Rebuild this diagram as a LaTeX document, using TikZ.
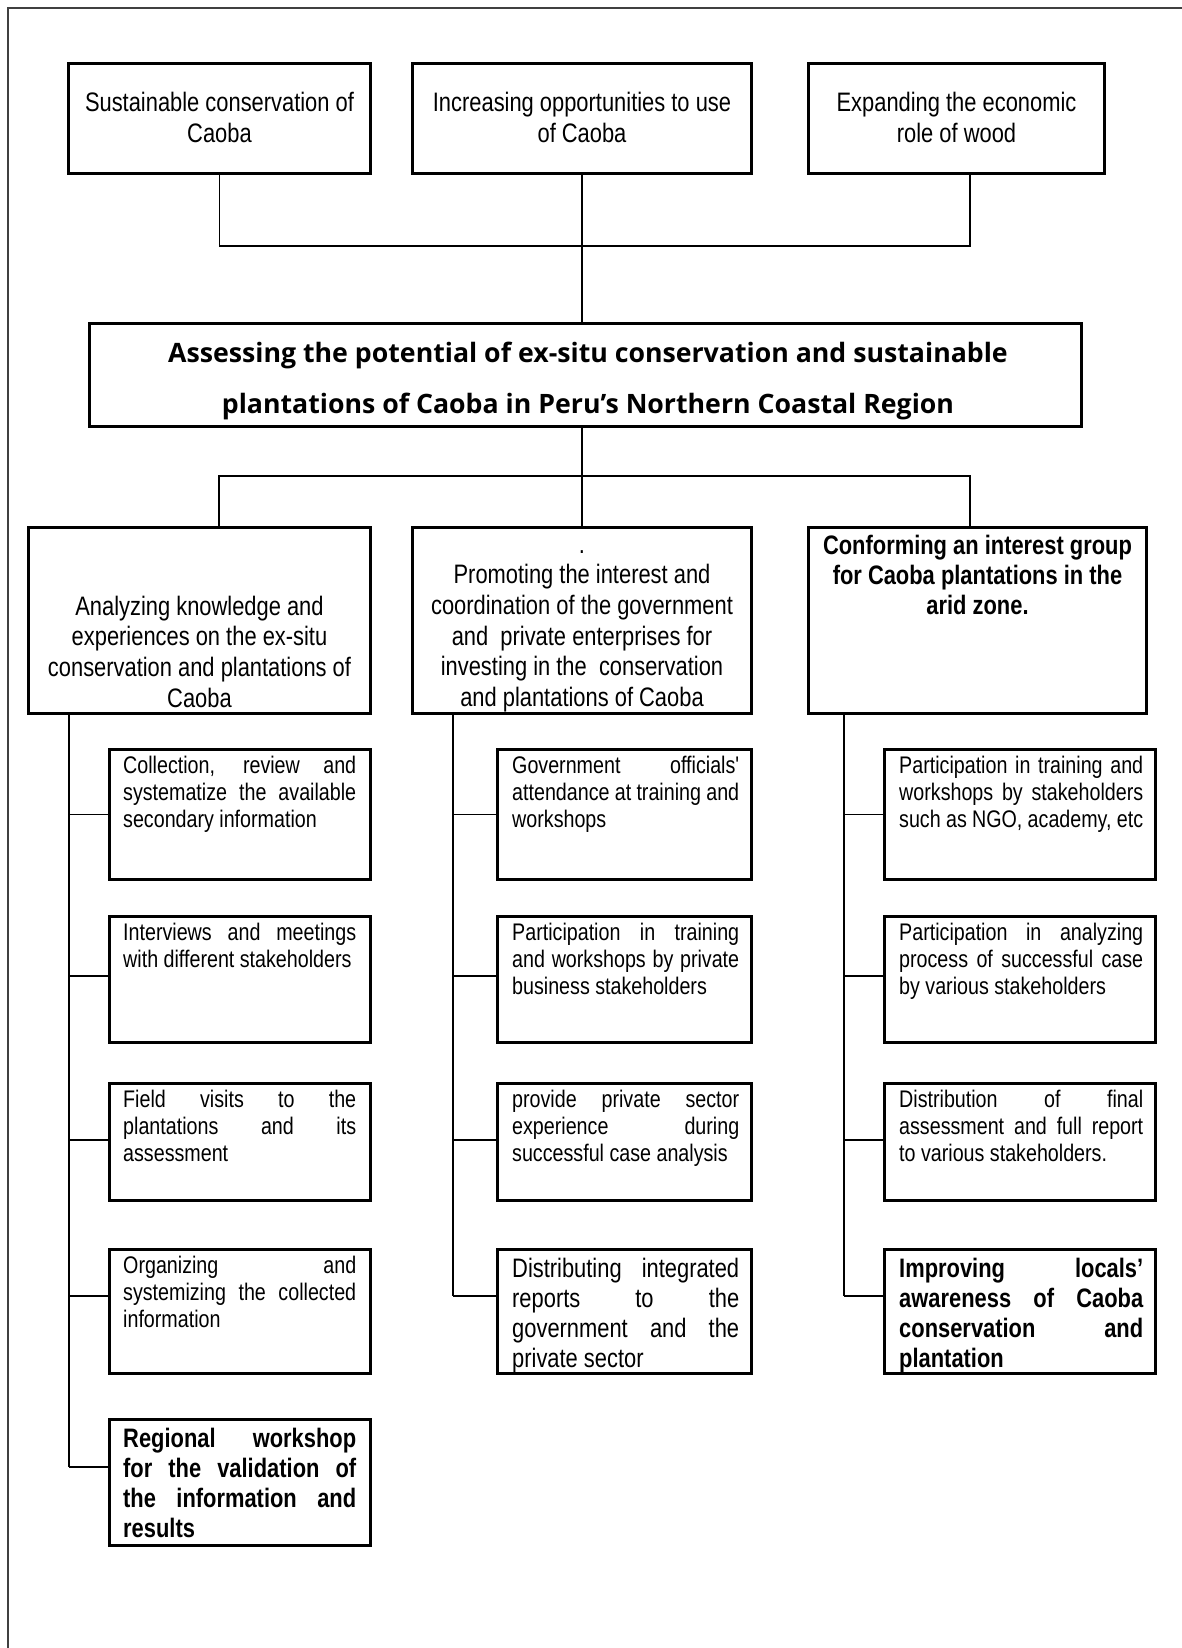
\documentclass[tikz,border=0pt]{standalone}
\usepackage{fontspec}
\newfontfamily\nar{Liberation Sans}[FakeStretch=0.82]
\newfontfamily\ttl{Open Sans}
\newcommand\fN{\nar\fontsize{26.7}{30.7}\selectfont}
\newcommand\fM{\nar\fontsize{26.7}{30}\selectfont}
\newcommand\fS{\nar\fontsize{24}{27}\selectfont}
\newcommand\fB{\nar\bfseries\fontsize{26.7}{30}\selectfont}
\newcommand\fT{\ttl\bfseries\fontsize{26.7}{51}\selectfont}
\newcommand\jline[1]{\makebox[\linewidth][s]{#1}}
\tikzset{
  bx/.style={draw, line width=3.3pt, inner sep=0pt},
  wire/.style={line width=1.3pt},
  txt/.style={inner sep=0pt, anchor=base west},
  ctxt/.style={inner sep=0pt, anchor=base},
  frame/.style={line width=2.5pt, draw=black!75},
}
\begin{document}
\begin{tikzpicture}[x=1pt,y=-1pt]
\useasboundingbox (0,0) rectangle (1182,1648);
% frame
\draw[frame] (8,1648) -- (8,8) -- (1182,8);
% top boxes
\node[bx, minimum width=302pt, minimum height=110pt] (B1) at (219.5,118.5) {};
\node[bx, minimum width=339pt, minimum height=110pt] (B2) at (582,118.5) {};
\node[bx, minimum width=296pt, minimum height=110pt] (B3) at (956.5,118.5) {};
\node[ctxt] (tB1) at (219.5,112) {\parbox[t]{290pt}{\centering\fN Sustainable conservation of\\Caoba}};
\node[ctxt] (tB2) at (582,112) {\parbox[t]{330pt}{\centering\fN Increasing opportunities to use\\of Caoba}};
\node[ctxt] (tB3) at (956.5,112) {\parbox[t]{290pt}{\centering\fN Expanding the economic\\role of wood}};
% main box
\node[bx, minimum width=992pt, minimum height=103pt] (T) at (585.5,375) {};
\node[ctxt] (tT) at (588,362) {\parbox[t]{980pt}{\centering\fT Assessing the potential of ex-situ conservation and sustainable\\plantations of Caoba in Peru’s Northern Coastal Region}};
% level 2
\node[bx, minimum width=342pt, minimum height=186pt] (L) at (199.5,620.5) {};
\node[bx, minimum width=339pt, minimum height=186pt] (M) at (582,620.5) {};
\node[bx, minimum width=338pt, minimum height=186pt] (R) at (977.5,620.5) {};
\node[ctxt] (tL) at (199.5,615) {\parbox[t]{335pt}{\centering\fN Analyzing knowledge and\\experiences on the ex-situ\\conservation and plantations of\\Caoba}};
\node[ctxt] (tM) at (582,553) {\parbox[t]{335pt}{\centering\fN .\\Promoting the interest and\\coordination of the government\\and\ \ private enterprises for\\investing in the\ \ conservation\\and plantations of Caoba}};
\node[ctxt] (tR) at (977.5,554) {\parbox[t]{335pt}{\centering\fB Conforming an interest group\\for Caoba plantations in the\\arid zone.}};
% sub boxes left
\node[bx, minimum width=261pt, minimum height=130pt] (l1) at (240,814.5) {};
\node[bx, minimum width=261pt, minimum height=126pt] (l2) at (240,979.5) {};
\node[bx, minimum width=261pt, minimum height=117pt] (l3) at (240,1142) {};
\node[bx, minimum width=261pt, minimum height=124pt] (l4) at (240,1311.5) {};
\node[bx, minimum width=261pt, minimum height=126pt] (l5) at (240,1482.5) {};
% sub boxes middle
\node[bx, minimum width=254pt, minimum height=130pt] (m1) at (624.5,814.5) {};
\node[bx, minimum width=254pt, minimum height=126pt] (m2) at (624.5,979.5) {};
\node[bx, minimum width=254pt, minimum height=117pt] (m3) at (624.5,1142) {};
\node[bx, minimum width=254pt, minimum height=124pt] (m4) at (624.5,1311.5) {};
% sub boxes right
\node[bx, minimum width=271pt, minimum height=130pt] (r1) at (1020,814.5) {};
\node[bx, minimum width=271pt, minimum height=126pt] (r2) at (1020,979.5) {};
\node[bx, minimum width=271pt, minimum height=117pt] (r3) at (1020,1142) {};
\node[bx, minimum width=271pt, minimum height=124pt] (r4) at (1020,1311.5) {};
% texts left
\node[txt] (tl1) at (123,773) {\parbox[t]{233pt}{\fS\jline{Collection, review and}\\\jline{systematize the available}\\secondary information}};
\node[txt] (tl2) at (123,940) {\parbox[t]{233pt}{\fS\jline{Interviews and meetings}\\with different stakeholders}};
\node[txt] (tl3) at (123,1107) {\parbox[t]{233pt}{\fS\jline{Field visits to the}\\\jline{plantations and its}\\assessment}};
\node[txt] (tl4) at (123,1273) {\parbox[t]{233pt}{\fS\jline{Organizing and}\\\jline{systemizing the collected}\\information}};
\node[txt] (tl5) at (123,1447) {\parbox[t]{233pt}{\fB\jline{Regional workshop}\\\jline{for the validation of}\\\jline{the information and}\\results}};
% texts middle
\node[txt] (tm1) at (512,773) {\parbox[t]{227pt}{\fS\jline{Government officials'}\\\jline{attendance at training and}\\workshops}};
\node[txt] (tm2) at (512,940) {\parbox[t]{227pt}{\fS\jline{Participation in training}\\\jline{and workshops by private}\\business stakeholders}};
\node[txt] (tm3) at (512,1107) {\parbox[t]{227pt}{\fS\jline{provide private sector}\\\jline{experience during}\\successful case analysis}};
\node[txt] (tm4) at (512,1277) {\parbox[t]{227pt}{\fM\jline{Distributing integrated}\\\jline{reports to the}\\\jline{government and the}\\private sector}};
% texts right
\node[txt] (tr1) at (899,773) {\parbox[t]{244pt}{\fS\jline{Participation in training and}\\\jline{workshops by stakeholders}\\such as NGO, academy, etc}};
\node[txt] (tr2) at (899,940) {\parbox[t]{244pt}{\fS\jline{Participation in analyzing}\\\jline{process of successful case}\\by various stakeholders}};
\node[txt] (tr3) at (899,1107) {\parbox[t]{244pt}{\fS\jline{Distribution of final}\\\jline{assessment and full report}\\to various stakeholders.}};
\node[txt] (tr4) at (899,1277) {\parbox[t]{244pt}{\fB\jline{Improving locals’}\\\jline{awareness of Caoba}\\\jline{conservation and}\\plantation}};
% junctions
\coordinate (j1) at (582,246);
\coordinate (j2) at (582,476);
\coordinate (tl) at (69,715);
\coordinate (tm) at (453,715);
\coordinate (tr) at (844,715);
% connectors top
\draw[wire] (B1.south) |- (j1) -| ([xshift=13.5pt]B3.south);
\draw[wire] (B2.south) -- (B2.south |- T.north);
\draw[wire] (T.south -| M.north) -- (M.north);
\draw[wire] ([xshift=19.5pt]L.north) |- (j2) -| ([xshift=-7.5pt]R.north);
% branch points on boxes
\foreach \c in {l, m, r}{
  \coordinate (\c1b) at (\c1.west);
  \coordinate (\c2b) at ([yshift=3.5pt]\c2.west);
  \coordinate (\c3b) at ([yshift=2pt]\c3.west);
  \coordinate (\c4b) at ([yshift=15.5pt]\c4.west);
}
\coordinate (l5b) at ([yshift=15.5pt]l5.west);
% trunks
\draw[wire] (tl) -- (tl |- l5b);
\draw[wire] (tm) -- (tm |- m4b);
\draw[wire] (tr) -- (tr |- r4b);
% branches
\foreach \c/\t in {l/tl, m/tm, r/tr}{
  \foreach \k in {1,2,3,4}{
    \draw[wire] (\t |- \c\k b) -- (\c\k b);
  }
}
\draw[wire] (tl |- l5b) -- (l5b);
\end{tikzpicture}
\end{document}
